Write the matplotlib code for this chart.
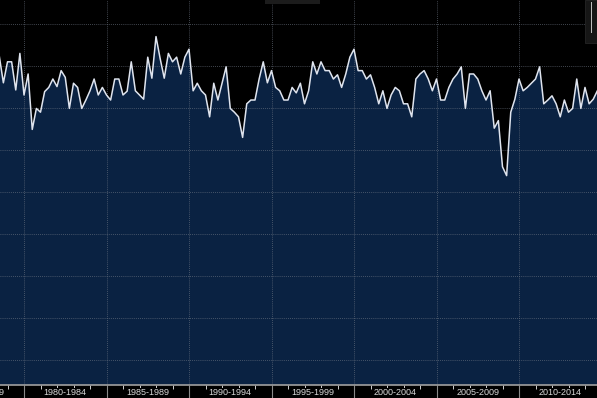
"""Quarterly series, Bloomberg-style dark area chart."""

import numpy as np
import matplotlib.pyplot as plt
from matplotlib.patches import Rectangle

# quarterly values starting 1978 Q3 (grid units)
start_year = 1978.5
values = [
    1.24, 0.60, 1.10, 1.10, 0.43, 1.30, 0.31, 0.81, -0.51, -0.01,
    -0.10, 0.39, 0.49, 0.69, 0.51, 0.89, 0.73, -0.01, 0.59, 0.49,
    -0.01, 0.19, 0.41, 0.69, 0.31, 0.49, 0.31, 0.19, 0.69, 0.69,
    0.31, 0.40, 1.10, 0.41, 0.31, 0.21, 1.21, 0.71, 1.70, 1.18,
    0.71, 1.30, 1.10, 1.21, 0.81, 1.21, 1.40, 0.41, 0.59, 0.41,
    0.31, -0.21, 0.59, 0.19, 0.59, 0.98, -0.01, -0.10, -0.21, -0.70,
    0.10, 0.19, 0.19, 0.69, 1.10, 0.60, 0.89, 0.49, 0.41, 0.19,
    0.19, 0.49, 0.36, 0.59, 0.10, 0.41, 1.10, 0.81, 1.10, 0.89,
    0.89, 0.69, 0.79, 0.49, 0.81, 1.21, 1.40, 0.89, 0.89, 0.69,
    0.79, 0.49, 0.10, 0.41, -0.01, 0.31, 0.49, 0.41, 0.10, 0.10,
    -0.21, 0.69, 0.81, 0.89, 0.69, 0.41, 0.69, 0.19, 0.19, 0.49,
    0.69, 0.81, 0.98, -0.01, 0.81, 0.81, 0.69, 0.41, 0.19, 0.41,
    -0.48, -0.30, -1.40, -1.61, -0.10, 0.21, 0.69, 0.41, 0.49, 0.59,
    0.69, 0.98, 0.10, 0.19, 0.29, 0.10, -0.21, 0.19, -0.10, -0.01,
    0.69, -0.01, 0.49, 0.10, 0.21, 0.41,
]
period_labels = ["1975-1979", "1980-1984", "1985-1989", "1990-1994",
                 "1995-1999", "2000-2004", "2005-2009", "2010-2014"]
period_starts = [1975, 1980, 1985, 1990, 1995, 2000, 2005, 2010]

t = start_year + 0.25 * np.arange(len(values))
v = np.array(values)

W, H, DPI = 597, 398, 100
fig = plt.figure(figsize=(W / DPI, H / DPI), dpi=DPI, facecolor='black')
ax = fig.add_axes([0, 13 / H, 1, 385 / H])
ax.set_facecolor('black')

ymin, ymax = (108 - 385) / 42, 108 / 42
xmin, xmax = 1980 - 24 / 16.5, 1980 + 573 / 16.5

ax.fill_between(t, v, ymin - 1, color='#0a2242', linewidth=0, zorder=1)
ax.plot(t, v, color='#dfe4ee', lw=1.1, zorder=3)

# grid
ax.set_yticks(np.arange(-6, 3, 1))
ax.set_xticks(np.arange(1980, 2016, 5))
ax.set_xticks([y for y in range(1976, 2016) if y % 5], minor=True)
ax.grid(True, color='#6e7684', lw=0.6, ls=(0, (1, 1.5)), alpha=0.8)
ax.set_axisbelow('line')

# limits after ticks so the tick list doesn't widen the view
ax.set_xlim(xmin, xmax)
ax.set_ylim(ymin, ymax)

ax.set_yticklabels([])
ax.set_xticklabels([])
ax.tick_params(axis='y', length=0)
ax.tick_params(axis='x', which='major', direction='out', length=13, width=0.8,
               color='#8a8a8a')
ax.tick_params(axis='x', which='minor', direction='out', length=3, width=0.7,
               color='#cfcfcf')

for s in ['top', 'left', 'right']:
    ax.spines[s].set_visible(False)
ax.spines['bottom'].set_color('#a0a0a0')
ax.spines['bottom'].set_linewidth(1.2)

# period labels centred in each five-year block
for start, lab in zip(period_starts, period_labels):
    ax.text(start + 2.5, -7.5 / 385, lab, transform=ax.get_xaxis_transform(),
            ha='center', va='center', fontsize=6.5, family='Liberation Sans',
            color='#d8d8d8', clip_on=False,
            bbox=dict(facecolor='black', edgecolor='none', pad=0.2))

# little widget in the top-right corner
fig.patches.append(Rectangle((585 / W, 1 - 43 / H), 12 / W, 43 / H,
                             transform=fig.transFigure, facecolor='#161616',
                             edgecolor='#2a2a2a', lw=0.5))
fig.patches.append(Rectangle((591 / W, 1 - 33 / H), 1.2 / W, 31 / H,
                             transform=fig.transFigure, facecolor='#bdbdbd',
                             edgecolor='none'))
fig.patches.append(Rectangle((265 / W, 1 - 4 / H), 55 / W, 4 / H,
                             transform=fig.transFigure, facecolor='#1c1c1c',
                             edgecolor='none'))

plt.savefig('out.png', dpi=DPI, facecolor='black')
